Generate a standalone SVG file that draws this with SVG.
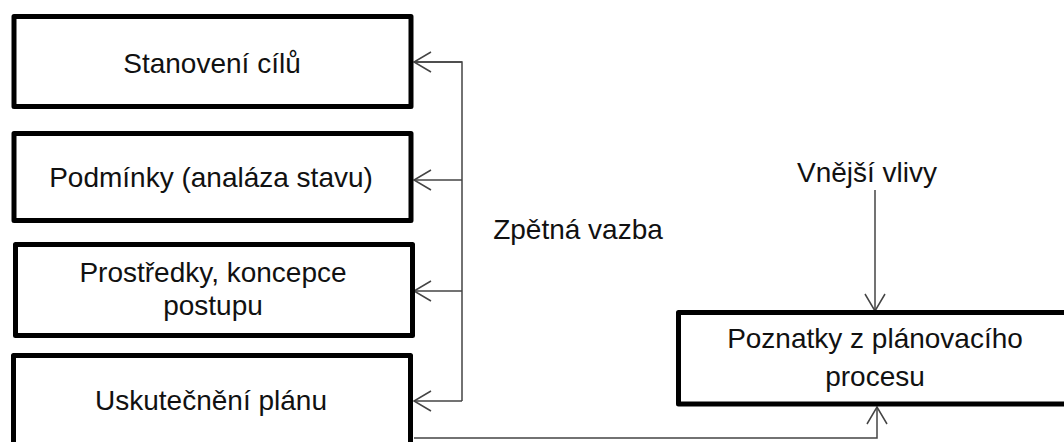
<svg xmlns="http://www.w3.org/2000/svg" width="1064" height="442" viewBox="0 0 1064 442">
<style>
.box{fill:#fff;stroke:#000;stroke-width:5;stroke-linejoin:round}
.t{font-family:"Liberation Sans",Arial,sans-serif;font-size:28px;fill:#111;text-anchor:middle}
.c{fill:none;stroke:#444;stroke-width:1.5}
</style>
<defs>
<marker id="ah" markerUnits="userSpaceOnUse" markerWidth="24" markerHeight="24" viewBox="-20 -12 24 24" refX="0" refY="0" orient="auto">
<path d="M-17,-10 L0,0 L-17,10" fill="none" stroke="#444" stroke-width="1.5"/>
</marker>
</defs>
<rect width="1064" height="442" fill="#fff"/>
<g id="connectors">
<path class="c" d="M414,62 H462 V401"/>
<path class="c" d="M462,62 H414" marker-end="url(#ah)"/>
<path class="c" d="M462,180 H414" marker-end="url(#ah)"/>
<path class="c" d="M462,291 H414" marker-end="url(#ah)"/>
<path class="c" d="M462,401 H414" marker-end="url(#ah)"/>
<path class="c" d="M414,438 H877 V407" marker-end="url(#ah)"/>
<path class="c" d="M875,190 V311" marker-end="url(#ah)"/>
</g>
<g id="n1"><rect class="box" x="14" y="16.5" width="397" height="90"/><text class="t" x="212" y="73">Stanovení cílů</text></g>
<g id="n2"><rect class="box" x="14" y="133.5" width="397" height="87"/><text class="t" x="211" y="187">Podmínky (analáza stavu)</text></g>
<g id="n3"><rect class="box" x="15.5" y="244.5" width="397" height="91"/><text class="t" x="213" y="282">Prostředky, koncepce</text><text class="t" x="213" y="315">postupu</text></g>
<g id="n4"><rect class="box" x="13.5" y="355.5" width="397" height="100"/><text class="t" x="211" y="410">Uskutečnění plánu</text></g>
<g id="n5"><rect class="box" x="678.5" y="312.5" width="400" height="91.5"/><text class="t" x="875" y="348">Poznatky z plánovacího</text><text class="t" x="875" y="386">procesu</text></g>
<g id="labels">
<text class="t" x="578" y="239">Zpětná vazba</text>
<text class="t" x="867" y="182">Vnější vlivy</text>
</g>
</svg>
